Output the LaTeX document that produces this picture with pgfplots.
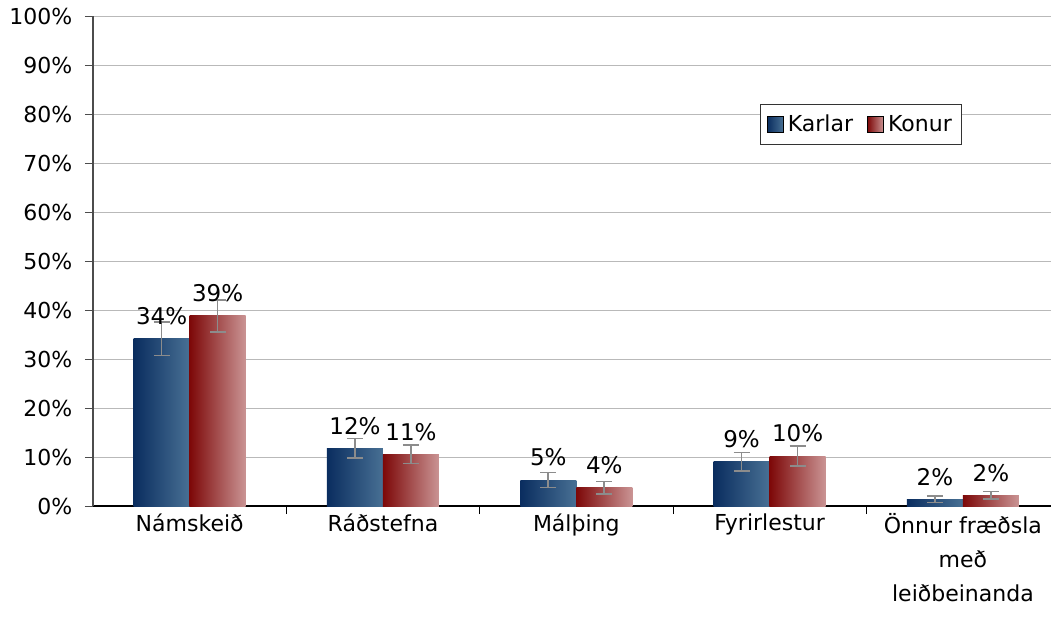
\documentclass[border=0pt]{standalone}
\usepackage{pgfplots}
\usepackage{pgfplotstable}
\pgfplotsset{compat=1.18}
\usepackage{fontspec}
\setmainfont{DejaVu Sans}
\definecolor{bL}{RGB}{10,45,95}
\definecolor{bR}{RGB}{72,112,148}
\definecolor{rL}{RGB}{125,8,8}
\definecolor{rR}{RGB}{202,148,148}
\definecolor{gridg}{RGB}{185,185,185}
\definecolor{errg}{RGB}{140,140,140}
\pgfplotstableread{
x y e l
0 34.1 3.4 34
1 11.8 2.0 12
2 5.3 1.5 5
3 9.0 1.9 9
4 1.4 0.7 2
}\karlar
\pgfplotstableread{
x y e l
0 38.8 3.3 39
1 10.6 1.9 11
2 3.7 1.3 4
3 10.2 2.0 10
4 2.2 0.8 2
}\konur
\begin{document}
\fontsize{11pt}{13pt}\selectfont
\begin{tikzpicture}
\begin{axis}[
  scale only axis,
  width=478.75pt, height=245pt,
  ymin=0, ymax=100,
  xmin=-0.5, xmax=4.453,
  ytick={0,10,...,100},
  yticklabel={\pgfmathprintnumber[assume math mode=true]{\tick}\%},
  ymajorgrids,
  grid style={gridg, line width=0.5pt},
  axis x line*=bottom,
  axis y line*=left,
  axis line style={black, line width=0.6pt},
  y axis line style={black!70},
  xtick={0,1,2,3,4},
  xticklabels={Námskeið,Ráðstefna,Málþing,Fyrirlestur,{Önnur fræðsla\\með\\leiðbeinanda}},
  xticklabel style={align=center, font=\fontsize{11pt}{17pt}\selectfont, yshift=4pt},
  yticklabel style={font=\fontsize{11pt}{13pt}\selectfont, xshift=-2.5pt},
  major x tick style={draw=none},
  minor xtick={0.5,1.5,2.5,3.5},
  minor x tick style={black},
  minor tick length=4pt,
  major tick length=4pt,
  tick align=outside,
  y tick style={black!70},
  ybar=0pt,
  bar width=28pt,
  point meta=explicit symbolic,
  nodes near coords={\pgfplotspointmeta\%},
  nodes near coords style={font=\fontsize{11.5pt}{13pt}\selectfont, anchor=south, yshift=3pt},
  error bars/y dir=both,
  error bars/y explicit,
  error bars/error bar style={errg, line width=0.8pt},
  error bars/error mark options={rotate=90, errg, mark size=4pt, line width=0.8pt},
  legend columns=2,
  legend style={at={(0.697,0.82)}, anchor=north west, draw=black!80, line width=0.5pt,
    font=\fontsize{11pt}{13pt}\selectfont, inner xsep=3pt, inner ysep=3pt,
    /tikz/every even column/.append style={column sep=5pt}},
  legend cell align=left,
]
\addlegendimage{legend image code/.code={\fill[left color=bL, right color=bR] (1pt,-4pt) rectangle (9pt,4pt);}}
\addlegendimage{legend image code/.code={\fill[left color=rL, right color=rR] (1pt,-4pt) rectangle (9pt,4pt);}}
\pgfplotsinvokeforeach{0,1,2,3,4}{
\addplot[bar shift=-14pt, draw=none, left color=bL, right color=bR,
  restrict x to domain=#1:#1, forget plot]
  table[x=x, y=y, y error=e, meta=l] {\karlar};
\addplot[bar shift=14pt, draw=none, left color=rL, right color=rR,
  restrict x to domain=#1:#1, forget plot]
  table[x=x, y=y, y error=e, meta=l] {\konur};
}
\legend{Karlar,Konur}
\end{axis}
\pgfresetboundingbox
\path (-46.5pt,-55.5pt) rectangle (479pt,253pt);
\end{tikzpicture}
\end{document}
